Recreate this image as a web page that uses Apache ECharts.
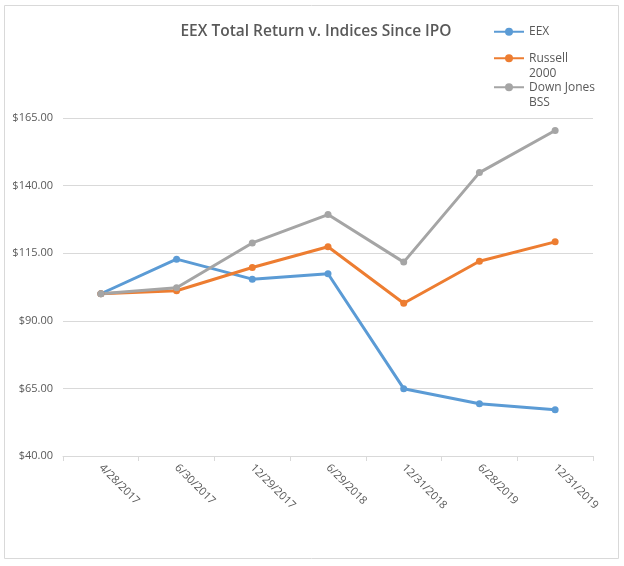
<!DOCTYPE html>
<html>
<head>
<meta charset="utf-8">
<script src="https://cdn.jsdelivr.net/npm/echarts@6/dist/echarts.min.js"></script>
<style>
html,body{margin:0;padding:0;background:#fff;}
#c{width:624px;height:566px;}
</style>
</head>
<body>
<div id="c"></div>
<script>
const categories = ['4/28/2017','6/30/2017','12/29/2017','6/29/2018','12/31/2018','6/28/2019','12/31/2019'];
const eex = [100.0, 112.8, 105.4, 107.4, 64.9, 59.3, 57.1];
const russell = [100.0, 101.1, 109.7, 117.4, 96.5, 112.0, 119.2];
const dowBss = [100.0, 102.2, 118.8, 129.3, 111.7, 144.8, 160.4];
const seriesNames = ['EEX', 'Russell 2000', 'Down Jones BSS'];
const legendLabels = ['EEX', '\nRussell\n2000', '\nDown Jones\nBSS'];
const yMin = 40, yMax = 165, yStep = 25;

const font = '"Open Sans", "Noto Sans", sans-serif';
const colors = ['#5B9BD5', '#ED7D31', '#A5A5A5'];
const chart = echarts.init(document.getElementById('c'), null, {renderer: 'canvas'});

function mkLegend(i, top) {
  return {
    data: [seriesNames[i]],
    orient: 'vertical',
    left: 493,
    top: top,
    itemWidth: 30,
    itemHeight: 10,
    itemGap: 0,
    padding: 0,
    selectedMode: false,
    formatter: function () { return legendLabels[i]; },
    textStyle: {
      color: '#595959', fontSize: 12, fontFamily: font,
      lineHeight: 15.5
    }
  };
}

const mkSeries = (name, data, color) => ({
  name: name,
  type: 'line',
  data: data,
  symbol: 'circle',
  symbolSize: 7,
  lineStyle: {width: 3, color: color},
  itemStyle: {color: color},
  emphasis: {disabled: true},
  animation: false
});

chart.setOption({
  color: colors,
  animation: false,
  title: {
    text: 'EEX Total Return v. Indices Since IPO',
    left: 311,
    textAlign: 'center',
    top: 19,
    textStyle: {color: '#595959', fontSize: 15.5, fontWeight: 600, fontFamily: font}
  },
  legend: [mkLegend(0, 24), mkLegend(1, 35), mkLegend(2, 64)],
  grid: {left: 63, right: 31, top: 118, bottom: 110, containLabel: false},
  xAxis: {
    type: 'category',
    data: categories,
    boundaryGap: true,
    axisLine: {show: true, lineStyle: {color: '#D9D9D9', width: 1}},
    axisTick: {show: true, length: 5, lineStyle: {color: '#D9D9D9'}},
    axisLabel: {rotate: -45, color: '#595959', fontSize: 11, fontFamily: font, margin: 10, interval: 0}
  },
  yAxis: {
    type: 'value',
    min: yMin, max: yMax, interval: yStep,
    axisLine: {show: false},
    axisTick: {show: false},
    splitLine: {lineStyle: {color: '#D9D9D9', width: 1}},
    axisLabel: {
      color: '#595959', fontSize: 11, fontFamily: font, margin: 10,
      formatter: v => '$' + v.toFixed(2)
    }
  },
  graphic: [{
    type: 'rect',
    shape: {x: 4.5, y: 5.5, width: 614, height: 553},
    style: {fill: 'none', stroke: '#D9D9D9', lineWidth: 1},
    silent: true, z: -1
  }],
  series: [
    mkSeries(seriesNames[0], eex, colors[0]),
    mkSeries(seriesNames[1], russell, colors[1]),
    mkSeries(seriesNames[2], dowBss, colors[2])
  ]
});
</script>
</body>
</html>
